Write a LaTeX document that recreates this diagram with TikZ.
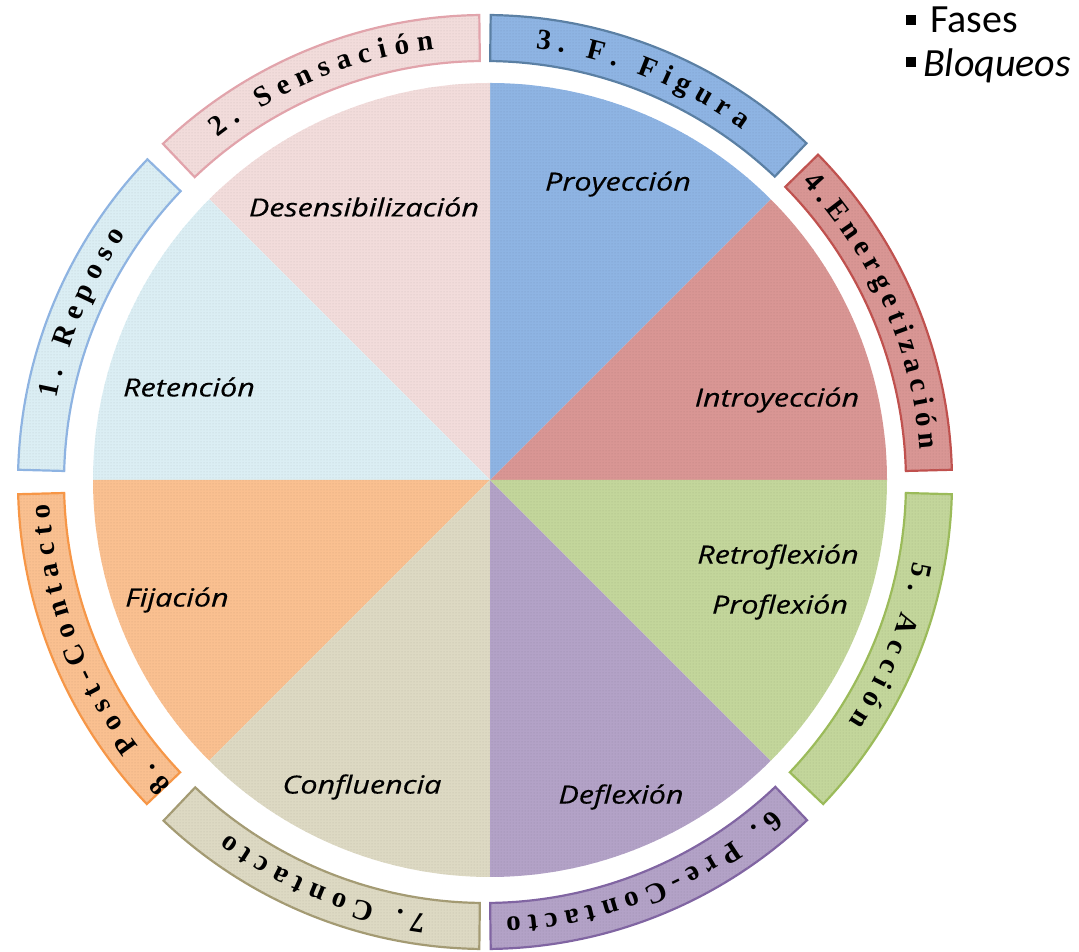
\documentclass[tikz,border=0pt]{standalone}
\usepackage{fontspec}
\usetikzlibrary{calc,patterns}
\newfontfamily\ringfontfam{Liberation Serif}
\newfontfamily\lblfontfam{Open Sans}[FakeStretch=1.22, FakeBold=0.4]
\newfontfamily\legfontfam{Carlito}
\newcommand\ringstyle{\ringfontfam\bfseries\fontsize{29}{31}\selectfont}
\definecolor{cRet}{HTML}{DBEEF4}
\definecolor{cDes}{HTML}{F2DCDB}
\definecolor{cPro}{HTML}{8EB4E3}
\definecolor{cInt}{HTML}{D99694}
\definecolor{cRtr}{HTML}{C3D69B}
\definecolor{cDef}{HTML}{B3A2C7}
\definecolor{cCon}{HTML}{DDD9C3}
\definecolor{cFij}{HTML}{FAC090}
\definecolor{bRet}{HTML}{8DB3E2}
\definecolor{bDes}{HTML}{E2A3AB}
\definecolor{bPro}{HTML}{5A7FA3}
\definecolor{bInt}{HTML}{C0504D}
\definecolor{bRtr}{HTML}{9BBB59}
\definecolor{bDef}{HTML}{8064A2}
\definecolor{bCon}{HTML}{A39A72}
\definecolor{bFij}{HTML}{F79646}
\tikzset{
  pie/.style={fill=#1, postaction={pattern=dots, pattern color=#1!85!black}},
  ringseg/.style 2 args={draw=#2, line width=2.2pt, fill=#1,
     postaction={pattern=dots, pattern color=#1!85!black}},
  ringchar/.style={font=\ringstyle, inner sep=0pt, anchor=base, text=black},
  lbl/.style={font=\lblfontfam\itshape\fontsize{25}{27}\selectfont, inner sep=0pt, text=black},
  legtext/.style={font=\legfontfam\fontsize{40}{42}\selectfont, inner sep=0pt, anchor=base west},
  bullet/.style={fill=black, minimum size=10pt, inner sep=0pt}
}
% #1 name prefix, #2 centre angle, #3 baseline radius, #4 tracking, #5 char/width(em) list
\newcommand\ringtext[5]{%
  \gdef\rttot{0}%
  \foreach \ch/\cw in {#5} {%
    \pgfmathsetmacro\rttmp{\rttot+\cw*29+#4}%
    \xdef\rttot{\rttmp}}%
  \pgfmathsetmacro\rtst{#2+deg((\rttot-#4)/(2*#3))}%
  \xdef\rtstart{\rtst}%
  \gdef\rtacc{0}%
  \foreach \ch/\cw [count=\k] in {#5} {%
    \pgfmathsetmacro\rtang{\rtstart-deg((\rtacc+\cw*14.5)/#3)}%
    \node[ringchar, rotate=\rtang-90] (#1\k) at ($(RC)+(\rtang:#3)$) {\ch};
    \pgfmathsetmacro\rttmp{\rtacc+\cw*29+#4}%
    \xdef\rtacc{\rttmp}}%
}
% #1 start, #2 end angle, #3 fill, #4 border
\newcommand\ringpiece[4]{%
  \draw[ringseg={#3}{#4}] ($(RC)+(#1:421)$) arc[start angle=#1, end angle=#2, radius=421]
     -- ($(RC)+(#2:467)$) arc[start angle=#2, end angle=#1, radius=467] -- cycle;}
\begin{document}
\begin{tikzpicture}[x=1pt,y=1pt]
\useasboundingbox (0,0) rectangle (1079,952);
\coordinate (PC) at (490,472);
\coordinate (RC) at (485,470);
% pie sectors
\fill[pie=cInt] (PC) -- ++(0:397) arc[start angle=0, end angle=45, radius=397] -- cycle;
\fill[pie=cPro] (PC) -- ++(45:397) arc[start angle=45, end angle=90, radius=397] -- cycle;
\fill[pie=cDes] (PC) -- ++(90:397) arc[start angle=90, end angle=135, radius=397] -- cycle;
\fill[pie=cRet] (PC) -- ++(135:397) arc[start angle=135, end angle=180, radius=397] -- cycle;
\fill[pie=cFij] (PC) -- ++(180:397) arc[start angle=180, end angle=225, radius=397] -- cycle;
\fill[pie=cCon] (PC) -- ++(225:397) arc[start angle=225, end angle=270, radius=397] -- cycle;
\fill[pie=cDef] (PC) -- ++(270:397) arc[start angle=270, end angle=315, radius=397] -- cycle;
\fill[pie=cRtr] (PC) -- ++(315:397) arc[start angle=315, end angle=360, radius=397] -- cycle;
% ring pieces
\ringpiece{178.5}{136.3}{cRet}{bRet}
\ringpiece{133.6}{90.7}{cDes}{bDes}
\ringpiece{89.3}{46.5}{cPro}{bPro}
\ringpiece{44.5}{1.5}{cInt}{bInt}
\ringpiece{-1.5}{-43.6}{cRtr}{bRtr}
\ringpiece{-46.4}{-89.3}{cDef}{bDef}
\ringpiece{-90.7}{-133.5}{cCon}{bCon}
\ringpiece{-136.4}{-178.5}{cFij}{bFij}
% ring texts
\ringtext{ra}{157.2}{436}{7.5}{1/.5,./.25,~/.25,R/.722,e/.444,p/.556,o/.5,s/.389,o/.5}
\ringtext{rb}{112.3}{436}{7.8}{2/.5,./.25,~/.25,S/.556,e/.444,n/.556,s/.389,a/.5,c/.444,i/.278,ó/.5,n/.556}
\ringtext{rc}{68.6}{436}{7.2}{3/.5,./.25,~/.25,F/.611,./.25,~/.25,F/.611,i/.278,g/.5,u/.556,r/.444,a/.5}
\ringtext{rd}{23.8}{436}{6.0}{4/.5,./.25,E/.667,n/.556,e/.444,r/.444,g/.5,e/.444,t/.333,i/.278,z/.444,a/.5,c/.444,i/.278,ó/.5,n/.556}
\ringtext{re}{-22.0}{436}{7.5}{5/.5,./.25,~/.25,A/.722,c/.444,c/.444,i/.278,ó/.5,n/.556}
\ringtext{rf}{-68.0}{436}{7.0}{6/.5,./.25,~/.25,P/.611,r/.444,e/.444,-/.333,C/.722,o/.5,n/.556,t/.333,a/.5,c/.444,t/.333,o/.5}
\ringtext{rg}{-112.0}{436}{7.5}{7/.5,./.25,~/.25,C/.722,o/.5,n/.556,t/.333,a/.5,c/.444,t/.333,o/.5}
\ringtext{rh}{-156.6}{436}{7.2}{8/.5,./.25,~/.25,P/.611,o/.5,s/.389,t/.333,-/.333,C/.722,o/.5,n/.556,t/.333,a/.5,c/.444,t/.333,o/.5}
% inner labels
\node[lbl] (desens) at (364,745) {Desensibilización};
\node[lbl] (proy) at (618,768) {Proyección};
\node[lbl] (introy) at (777,552) {Introyección};
\node[lbl] (reten) at (189,565) {Retención};
\node[lbl] (retro) at (778,395) {Retroflexión};
\node[lbl] (profl) at (780,345) {Proflexión};
\node[lbl] (fijac) at (177,352) {Fijación};
\node[lbl] (confl) at (362,165) {Confluencia};
\node[lbl] (deflx) at (621,155) {Deflexión};
% legend
\node[bullet] (bul1) at (911,932) {};
\node[legtext] (fases) at (930,919) {Fases};
\node[bullet] (bul2) at (911,890) {};
\node[legtext, font=\legfontfam\itshape\fontsize{40}{42}\selectfont] (bloq) at (923,875) {Bloqueos};
\end{tikzpicture}
\end{document}
